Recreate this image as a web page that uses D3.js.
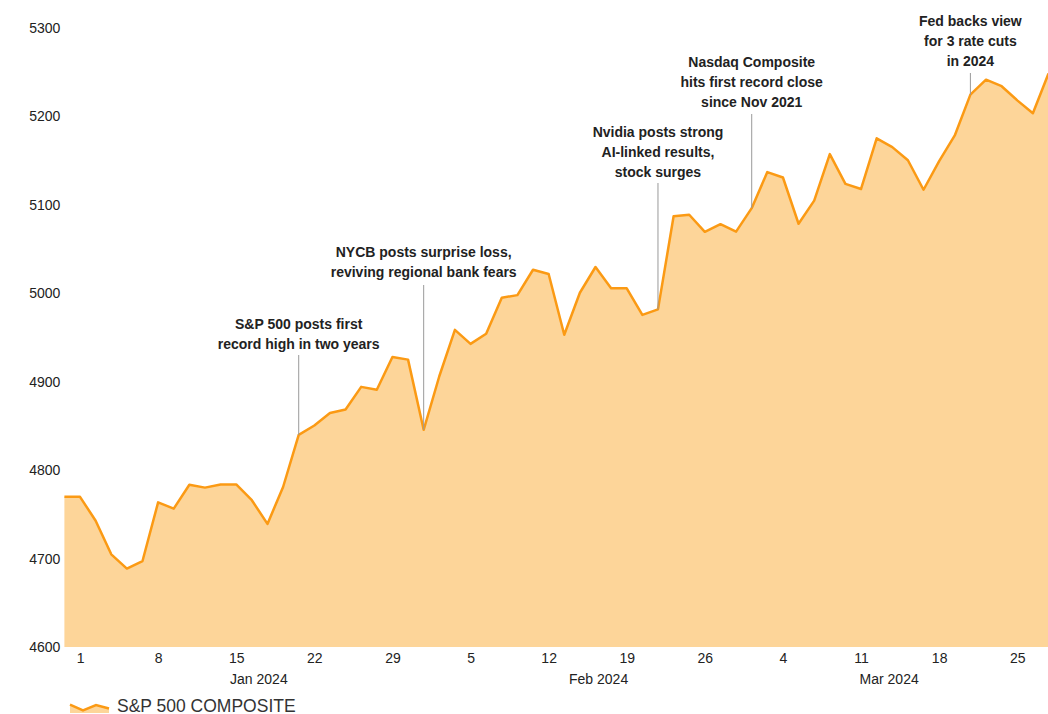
<!DOCTYPE html>
<html>
<head>
<meta charset="utf-8">
<script src="https://cdn.jsdelivr.net/npm/d3@7/dist/d3.min.js"></script>
<style>
  html, body { margin: 0; padding: 0; background: #fff; }
  svg { display: block; font-family: "Liberation Sans", Arial, sans-serif; }
</style>
</head>
<body>
<svg id="chart" width="1048" height="714"></svg>
<script>
// S&P 500 daily closes, weekdays from 29 Dec 2023 to 27 Mar 2024 (holidays carry the prior close)
const dates = [
  "2023-12-29",
  "2024-01-01","2024-01-02","2024-01-03","2024-01-04","2024-01-05",
  "2024-01-08","2024-01-09","2024-01-10","2024-01-11","2024-01-12",
  "2024-01-15","2024-01-16","2024-01-17","2024-01-18","2024-01-19",
  "2024-01-22","2024-01-23","2024-01-24","2024-01-25","2024-01-26",
  "2024-01-29","2024-01-30","2024-01-31","2024-02-01","2024-02-02",
  "2024-02-05","2024-02-06","2024-02-07","2024-02-08","2024-02-09",
  "2024-02-12","2024-02-13","2024-02-14","2024-02-15","2024-02-16",
  "2024-02-19","2024-02-20","2024-02-21","2024-02-22","2024-02-23",
  "2024-02-26","2024-02-27","2024-02-28","2024-02-29","2024-03-01",
  "2024-03-04","2024-03-05","2024-03-06","2024-03-07","2024-03-08",
  "2024-03-11","2024-03-12","2024-03-13","2024-03-14","2024-03-15",
  "2024-03-18","2024-03-19","2024-03-20","2024-03-21","2024-03-22",
  "2024-03-25","2024-03-26","2024-03-27"
];
const closes = [
  4769.83,
  4769.83, 4742.83, 4704.81, 4688.68, 4697.24,
  4763.54, 4756.50, 4783.45, 4780.24, 4783.83,
  4783.83, 4765.98, 4739.21, 4780.94, 4839.81,
  4850.43, 4864.60, 4868.55, 4894.16, 4890.97,
  4927.93, 4924.97, 4845.65, 4906.19, 4958.61,
  4942.81, 4954.23, 4995.06, 4997.91, 5026.61,
  5021.84, 4953.17, 5000.62, 5029.73, 5005.57,
  5005.57, 4975.51, 4981.80, 5087.03, 5088.80,
  5069.53, 5078.18, 5069.76, 5096.27, 5137.08,
  5130.95, 5078.65, 5104.76, 5157.36, 5123.69,
  5117.94, 5175.27, 5165.31, 5150.48, 5117.09,
  5149.42, 5178.51, 5224.62, 5241.53, 5234.18,
  5218.19, 5203.58, 5248.49
];
const yTicks = [4600, 4700, 4800, 4900, 5000, 5100, 5200, 5300];
const weekTicks = [
  "2024-01-01","2024-01-08","2024-01-15","2024-01-22","2024-01-29",
  "2024-02-05","2024-02-12","2024-02-19","2024-02-26",
  "2024-03-04","2024-03-11","2024-03-18","2024-03-25"
];
const monthLabels = ["Jan 2024", "Feb 2024", "Mar 2024"];
const eventDates = ["2024-01-19", "2024-01-31", "2024-02-21", "2024-02-29", "2024-03-20"];
const eventTexts = [
  ["S&P 500 posts first", "record high in two years"],
  ["NYCB posts surprise loss,", "reviving regional bank fears"],
  ["Nvidia posts strong", "AI-linked results,", "stock surges"],
  ["Nasdaq Composite", "hits first record close", "since Nov 2021"],
  ["Fed backs view", "for 3 rate cuts", "in 2024"]
];
const seriesName = "S&P 500 COMPOSITE";

// layout
const plotLeft = 64.4, plotRight = 1048.5, plotTop = 28, plotBottom = 647;
const lineColor = "#fb9a14", fillColor = "#fdd599", textColor = "#222";
const monthCenters = [12.45, 34.2, 52.8];           // in weekday-index units
const eventTopBaselines = [329, 257, 137, 67, 26];
const eventLineTops = [355, 285, 183, 114, 73];
const lineGap = 20;

const data = dates.map((d, i) => ({ date: d, value: closes[i] }));

const svg = d3.select("#chart");

const x = d3.scalePoint().domain(dates).range([plotLeft, plotRight]);
const xi = d3.scaleLinear().domain([0, dates.length - 1]).range([plotLeft, plotRight]);
const y = d3.scaleLinear().domain([4600, 5300]).range([plotBottom, plotTop]);

// area and line
const area = d3.area().x(d => x(d.date)).y0(y(4600)).y1(d => y(d.value));
const line = d3.line().x(d => x(d.date)).y(d => y(d.value));

svg.append("path").datum(data).attr("d", area).attr("fill", fillColor);
svg.append("path").datum(data).attr("d", line)
  .attr("fill", "none").attr("stroke", lineColor)
  .attr("stroke-width", 2.5).attr("stroke-linejoin", "round");

// y axis
const yAxis = svg.append("g").attr("transform", `translate(${plotLeft - 4},0)`)
  .call(d3.axisLeft(y).tickValues(yTicks).tickSize(0).tickPadding(0).tickFormat(d3.format("d")));
yAxis.select(".domain").remove();
yAxis.selectAll("text").attr("font-size", 14).attr("fill", textColor)
  .attr("font-family", "Liberation Sans, Arial, sans-serif");

// x axis (weekly ticks on Mondays)
const xAxis = svg.append("g").attr("transform", `translate(0,${plotBottom})`)
  .call(d3.axisBottom(x).tickValues(weekTicks).tickSize(0).tickPadding(6)
    .tickFormat(d => String(+d.slice(8))));
xAxis.select(".domain").remove();
xAxis.selectAll("text").attr("font-size", 14).attr("fill", textColor)
  .attr("font-family", "Liberation Sans, Arial, sans-serif");

// month labels
svg.append("g").selectAll("text").data(monthLabels).join("text")
  .attr("x", (d, i) => xi(monthCenters[i]))
  .attr("y", 684)
  .attr("text-anchor", "middle")
  .attr("font-size", 14).attr("fill", textColor)
  .text(d => d);

// event annotations
const ev = svg.append("g").selectAll("g").data(eventDates).join("g");
ev.append("line")
  .attr("x1", d => x(d)).attr("x2", d => x(d))
  .attr("y1", (d, i) => eventLineTops[i])
  .attr("y2", d => y(closes[dates.indexOf(d)]))
  .attr("stroke", "#9a9a9a").attr("stroke-width", 1);
ev.each(function (d, i) {
  const t = d3.select(this).append("text")
    .attr("text-anchor", "middle")
    .attr("font-size", 14).attr("font-weight", "bold").attr("fill", textColor);
  eventTexts[i].forEach((s, k) => {
    t.append("tspan").attr("x", x(d)).attr("y", eventTopBaselines[i] + k * lineGap).text(s);
  });
});

// legend swatch: small area-with-line glyph
const lg = svg.append("g").attr("transform", "translate(70,699)");
const iconX = d3.scaleLinear().domain([0, 3]).range([0, 39]);
const iconY = d3.scaleLinear().domain([0, 1]).range([12, 5]);
const iconPts = [0.9, 0.1, 0.85, 0.35];
lg.append("path").datum(iconPts)
  .attr("d", d3.area().x((d, i) => iconX(i)).y0(14).y1(d => iconY(d)))
  .attr("fill", fillColor);
lg.append("path").datum(iconPts)
  .attr("d", d3.line().x((d, i) => iconX(i)).y(d => iconY(d)))
  .attr("fill", "none").attr("stroke", lineColor).attr("stroke-width", 2.5);
lg.append("text").attr("x", 47).attr("y", 12.5)
  .attr("font-size", 17.5).attr("fill", "#333").text(seriesName);
</script>
</body>
</html>
